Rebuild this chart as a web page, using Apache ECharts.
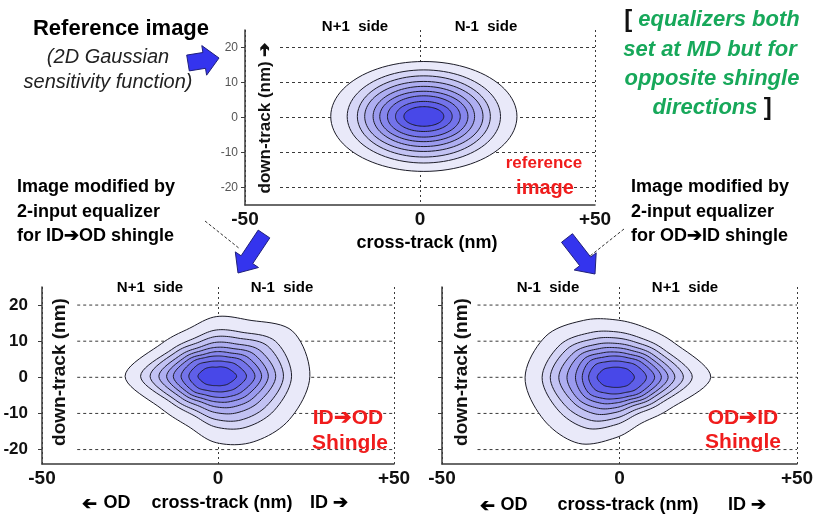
<!DOCTYPE html>
<html>
<head>
<meta charset="utf-8">
<script src="https://cdn.jsdelivr.net/npm/echarts@6/dist/echarts.min.js"></script>
<style>
  html, body { margin: 0; padding: 0; background: #ffffff; }
  #chart { width: 819px; height: 516px; }
</style>
</head>
<body>
<div id="chart"></div>
<script>
// ---- axis ticks ----
const X_TICKS = [-50, 0, 50];
const Y_TICKS = [-20, -10, 0, 10, 20];

// ---- reference image: elliptical contours (nm), outermost level first ----
const REF_CENTER = [1.1, 0.3];
const REF_RADIUS_X = [26.6, 21.9, 19.0, 16.9, 14.5, 12.6, 10.4, 8.1, 5.7];
const REF_RADIUS_Y = [15.7, 13.3, 11.6, 10.0, 8.6, 7.2, 5.9, 4.3, 2.8];

// ---- equalized images: contour radius (nm) along each direction from the centre ----
const RING_DIRECTIONS_DEG = [0, 30, 60, 90, 120, 150, 180, 210, 240, 270, 300, 330];

const ID_OD_CENTER = [-0.5, 0.3];
const ID_OD_RINGS = [
  [26.6, 25.0, 18.0, 16.5, 15.3, 18.0, 25.9, 18.0, 16.0, 18.4, 21.0, 24.0],
  [21.4, 19.4, 14.1, 12.8, 12.2, 14.7, 21.5, 14.7, 12.6, 14.1, 16.4, 19.0],
  [19.1, 16.8, 12.2, 11.0, 10.7, 13.3, 18.8, 13.3, 11.1, 12.0, 14.0, 16.5],
  [16.9, 14.3, 10.4, 9.4, 9.3, 11.7, 16.3, 11.7, 9.6, 10.1, 11.7, 14.1],
  [14.8, 12.3, 8.9, 8.0, 8.2, 10.4, 14.1, 10.4, 8.3, 8.5, 9.8, 12.1],
  [12.9, 10.4, 7.5, 6.8, 7.0, 9.2, 12.2, 9.2, 7.2, 7.1, 8.1, 10.3],
  [11.0, 8.6, 6.2, 5.6, 6.0, 7.9, 10.0, 7.9, 6.0, 5.8, 6.6, 8.5],
  [8.6, 6.5, 4.7, 4.2, 4.6, 6.2, 7.8, 6.2, 4.6, 4.3, 4.9, 6.5],
  [5.8, 4.1, 3.0, 2.5, 2.9, 3.9, 5.2, 3.9, 2.9, 2.6, 3.0, 4.1]
];

const OD_ID_CENTER = [-1.0, 0.0];
const OD_ID_RINGS = [
  [26.7, 19.0, 16.0, 15.9, 18.2, 22.8, 25.6, 23.5, 21.1, 16.7, 14.6, 17.5],
  [21.5, 15.5, 12.8, 12.6, 14.3, 18.1, 20.8, 18.6, 16.3, 13.1, 11.8, 14.5],
  [19.0, 13.9, 11.2, 10.9, 12.3, 15.8, 18.5, 16.2, 13.8, 11.3, 10.5, 13.1],
  [16.6, 12.3, 9.8, 9.4, 10.6, 13.7, 16.1, 13.9, 11.7, 9.7, 9.2, 11.7],
  [14.7, 11.0, 8.6, 8.2, 9.2, 12.0, 13.8, 12.2, 9.9, 8.4, 8.2, 10.6],
  [12.8, 9.7, 7.4, 7.0, 7.8, 10.3, 11.4, 10.4, 8.3, 7.1, 7.2, 9.4],
  [10.9, 8.3, 6.3, 5.9, 6.5, 8.7, 9.5, 8.8, 6.8, 5.9, 6.2, 8.2],
  [8.6, 6.6, 4.9, 4.5, 5.0, 6.8, 7.7, 6.8, 5.1, 4.6, 4.9, 6.6],
  [5.2, 4.1, 3.1, 2.8, 3.1, 4.2, 5.3, 4.2, 3.1, 2.8, 3.1, 4.1]
];

// fill of the band inside each contour level, outermost first
const BAND_COLORS = ['#e9e9f9', '#d6d6f6', '#c2c2f3', '#aeaef1', '#9a9aee',
                     '#8686ec', '#7373ea', '#5f5fe8', '#4848e8'];

const FONT = '"Liberation Sans", Arial, Helvetica, sans-serif';
const GRID_LINE_START = -40;
const GRID_LINE_END = 50;

// ---------- helpers ----------
function catmullRomClosed(pts, steps) {
  const out = [];
  const n = pts.length;
  for (let i = 0; i < n; i++) {
    const p0 = pts[(i - 1 + n) % n], p1 = pts[i], p2 = pts[(i + 1) % n], p3 = pts[(i + 2) % n];
    for (let s = 0; s < steps; s++) {
      const t = s / steps, t2 = t * t, t3 = t2 * t;
      const f = (a, b, c, d) => 0.5 * ((2 * b) + (-a + c) * t + (2 * a - 5 * b + 4 * c - d) * t2 + (-a + 3 * b - 3 * c + d) * t3);
      out.push([f(p0[0], p1[0], p2[0], p3[0]), f(p0[1], p1[1], p2[1], p3[1])]);
    }
  }
  return out;
}

function ringRenderer(center, rings) {
  return function (params, api) {
    const k = params.dataIndex;
    const radii = rings[k];
    const ctrl = radii.map((r, i) => {
      const a = RING_DIRECTIONS_DEG[i] * Math.PI / 180;
      return api.coord([center[0] + r * Math.cos(a), center[1] + r * Math.sin(a)]);
    });
    return {
      type: 'polygon',
      shape: { points: catmullRomClosed(ctrl, 10) },
      style: { fill: BAND_COLORS[k], stroke: '#1c1c28', lineWidth: 1 }
    };
  };
}

function ellipseRenderer(params, api) {
  const k = params.dataIndex;
  const pts = [];
  for (let i = 0; i < 96; i++) {
    const a = i / 96 * Math.PI * 2;
    pts.push(api.coord([REF_CENTER[0] + REF_RADIUS_X[k] * Math.cos(a),
                        REF_CENTER[1] + REF_RADIUS_Y[k] * Math.sin(a)]));
  }
  return {
    type: 'polygon',
    shape: { points: pts },
    style: { fill: BAND_COLORS[k], stroke: '#1c1c28', lineWidth: 1 }
  };
}

function gridLineRenderer(params, api) {
  const v = Y_TICKS[params.dataIndex];
  const a = api.coord([GRID_LINE_START, v]);
  const b = api.coord([GRID_LINE_END, v]);
  return {
    type: 'line',
    shape: { x1: a[0], y1: a[1], x2: b[0], y2: b[1] },
    style: { stroke: '#3a3a3a', lineWidth: 1, lineDash: [3, 3] }
  };
}

function xAxisFor(gridIndex) {
  return {
    type: 'value', gridIndex, min: -50, max: 50, interval: 50,
    axisLine: { show: true, onZero: false, lineStyle: { color: '#3a3a3a', width: 1.5 } },
    axisTick: { show: false },
    axisLabel: {
      fontFamily: FONT, fontWeight: 'bold', fontSize: 19, color: '#111', margin: 5,
      formatter: v => (v > 0 ? '+' + v : String(v))
    },
    splitLine: { show: true, lineStyle: { color: '#3a3a3a', width: 1, type: [2, 3] } }
  };
}

function yAxisFor(gridIndex, min, max, label) {
  return {
    type: 'value', gridIndex, min, max,
    axisLine: { show: true, onZero: false, lineStyle: { color: '#3a3a3a', width: 1.5 } },
    axisTick: { show: true, customValues: Y_TICKS, length: 4, lineStyle: { color: '#3a3a3a' } },
    axisLabel: Object.assign({ customValues: Y_TICKS, fontFamily: FONT }, label),
    splitLine: { show: false }
  };
}

function txt(x, y, text, font, fill, extra) {
  return Object.assign({
    type: 'text', x, y, z: 50,
    style: {
      text, font, fill: fill || '#000',
      align: 'center', verticalAlign: 'middle',
      textAlign: 'center', textVerticalAlign: 'middle'
    }
  }, extra || {});
}

function leftTxt(x, y, text, font, fill) {
  const t = txt(x, y, text, font, fill);
  t.style.align = 'left';
  t.style.textAlign = 'left';
  return t;
}

function arrow(points) {
  return {
    type: 'polygon', z: 40,
    shape: { points },
    style: { fill: '#3434ee', stroke: '#20207a', lineWidth: 1 }
  };
}

const levelData = BAND_COLORS.map((c, i) => [i]);
const tickData = Y_TICKS.map(v => [v]);

const BOLD18 = 'bold 18px ' + FONT;
const RED = '#f01c1c';
const GREEN = '#17a85a';

const option = {
  animation: false,
  backgroundColor: '#ffffff',
  grid: [
    { left: 245, top: 30, width: 350, height: 175 },
    { left: 42, top: 287, width: 352, height: 177 },
    { left: 442, top: 287, width: 355, height: 177 }
  ],
  xAxis: [xAxisFor(0), xAxisFor(1), xAxisFor(2)],
  yAxis: [
    yAxisFor(0, -25, 25, { fontSize: 12, color: '#555', margin: 7 }),
    yAxisFor(1, -24, 25, { fontSize: 17, fontWeight: 'bold', color: '#111', margin: 14 }),
    yAxisFor(2, -24, 25, { show: false })
  ],
  series: [
    { type: 'custom', xAxisIndex: 0, yAxisIndex: 0, z: 1, silent: true, data: tickData, renderItem: gridLineRenderer },
    { type: 'custom', xAxisIndex: 1, yAxisIndex: 1, z: 1, silent: true, data: tickData, renderItem: gridLineRenderer },
    { type: 'custom', xAxisIndex: 2, yAxisIndex: 2, z: 1, silent: true, data: tickData, renderItem: gridLineRenderer },
    { type: 'custom', name: 'reference image', xAxisIndex: 0, yAxisIndex: 0, z: 5, silent: true,
      data: levelData, renderItem: ellipseRenderer },
    { type: 'custom', name: 'ID→OD shingle', xAxisIndex: 1, yAxisIndex: 1, z: 5, silent: true,
      data: levelData, renderItem: ringRenderer(ID_OD_CENTER, ID_OD_RINGS) },
    { type: 'custom', name: 'OD→ID shingle', xAxisIndex: 2, yAxisIndex: 2, z: 5, silent: true,
      data: levelData, renderItem: ringRenderer(OD_ID_CENTER, OD_ID_RINGS) }
  ],
  graphic: [
    // upper-left caption
    txt(121, 29, 'Reference image', 'bold 22px ' + FONT),
    txt(108, 57, '(2D Gaussian', 'italic 20px ' + FONT, '#222'),
    txt(108, 82, 'sensitivity function)', 'italic 20px ' + FONT, '#222'),
    arrow([[189.3, 70.9], [205.5, 68.3], [206.6, 75.2], [219, 58], [201.8, 45.6], [202.9, 52.5], [186.7, 55.1]]),

    // upper-right note
    {
      type: 'text', x: 712, y: 20, z: 50,
      style: {
        text: '{k|[} equalizers both', font: 'italic bold 22px ' + FONT, fill: GREEN,
        align: 'center', verticalAlign: 'middle', textAlign: 'center', textVerticalAlign: 'middle',
        rich: { k: { fill: '#111', fontStyle: 'normal', fontWeight: 'bold', fontSize: 24, fontFamily: FONT } }
      }
    },
    txt(710, 50, 'set at MD but for', 'italic bold 22px ' + FONT, GREEN),
    txt(712, 79, 'opposite shingle', 'italic bold 22px ' + FONT, GREEN),
    {
      type: 'text', x: 712, y: 108, z: 50,
      style: {
        text: 'directions {k|]}', font: 'italic bold 22px ' + FONT, fill: GREEN,
        align: 'center', verticalAlign: 'middle', textAlign: 'center', textVerticalAlign: 'middle',
        rich: { k: { fill: '#111', fontStyle: 'normal', fontWeight: 'bold', fontSize: 24, fontFamily: FONT } }
      }
    },

    // reference plot labels
    txt(355, 27, 'N+1  side', 'bold 15px ' + FONT),
    txt(486, 27, 'N-1  side', 'bold 15px ' + FONT),
    txt(265, 118, 'down-track (nm) ➔', 'bold 17px ' + FONT, '#111', { rotation: Math.PI / 2 }),
    txt(427, 243, 'cross-track (nm)', 'bold 18px ' + FONT),
    txt(544, 163, 'reference', 'bold 17px ' + FONT, RED),
    txt(545, 188, 'image', 'bold 20px ' + FONT, RED),

    // side captions with leader lines and arrows
    leftTxt(17, 187, 'Image modified by', BOLD18),
    leftTxt(17, 212, '2-input equalizer', BOLD18),
    leftTxt(17, 236, 'for ID➔OD shingle', BOLD18),
    leftTxt(631, 187, 'Image modified by', BOLD18),
    leftTxt(631, 212, '2-input equalizer', BOLD18),
    leftTxt(631, 236, 'for OD➔ID shingle', BOLD18),
    { type: 'line', z: 40, shape: { x1: 205, y1: 221, x2: 240, y2: 249 },
      style: { stroke: '#333', lineWidth: 1, lineDash: [3, 2] } },
    { type: 'line', z: 40, shape: { x1: 624, y1: 229, x2: 590, y2: 256 },
      style: { stroke: '#333', lineWidth: 1, lineDash: [3, 2] } },
    arrow([[269.8, 237.9], [252.7, 263.6], [258.5, 267.5], [238, 273], [235.3, 251.9], [241.1, 255.8], [258.2, 230.1]]),
    arrow([[572.5, 233.7], [590.7, 257.1], [596.2, 252.8], [595, 274], [574.2, 270], [579.7, 265.7], [561.5, 242.3]]),

    // lower-left plot labels
    txt(150, 288, 'N+1  side', 'bold 15px ' + FONT),
    txt(282, 288, 'N-1  side', 'bold 15px ' + FONT),
    txt(60, 372, 'down-track (nm)', 'bold 19px ' + FONT, '#111', { rotation: Math.PI / 2 }),
    txt(89, 503, '➔', BOLD18, '#000', { rotation: Math.PI }),
    txt(117, 503, 'OD', BOLD18),
    txt(222, 503, 'cross-track (nm)', BOLD18),
    txt(329, 503, 'ID ➔', BOLD18),
    txt(348, 418, 'ID➔OD', 'bold 21px ' + FONT, RED),
    txt(350, 443, 'Shingle', 'bold 21px ' + FONT, RED),

    // lower-right plot labels
    txt(548, 288, 'N-1  side', 'bold 15px ' + FONT),
    txt(685, 288, 'N+1  side', 'bold 15px ' + FONT),
    txt(462, 372, 'down-track (nm)', 'bold 19px ' + FONT, '#111', { rotation: Math.PI / 2 }),
    txt(487, 505, '➔', BOLD18, '#000', { rotation: Math.PI }),
    txt(514, 505, 'OD', BOLD18),
    txt(628, 505, 'cross-track (nm)', BOLD18),
    txt(747, 505, 'ID ➔', BOLD18),
    txt(743, 418, 'OD➔ID', 'bold 21px ' + FONT, RED),
    txt(743, 442, 'Shingle', 'bold 21px ' + FONT, RED)
  ]
};

const chart = echarts.init(document.getElementById('chart'), null, { renderer: 'canvas' });
chart.setOption(option);
</script>
</body>
</html>
